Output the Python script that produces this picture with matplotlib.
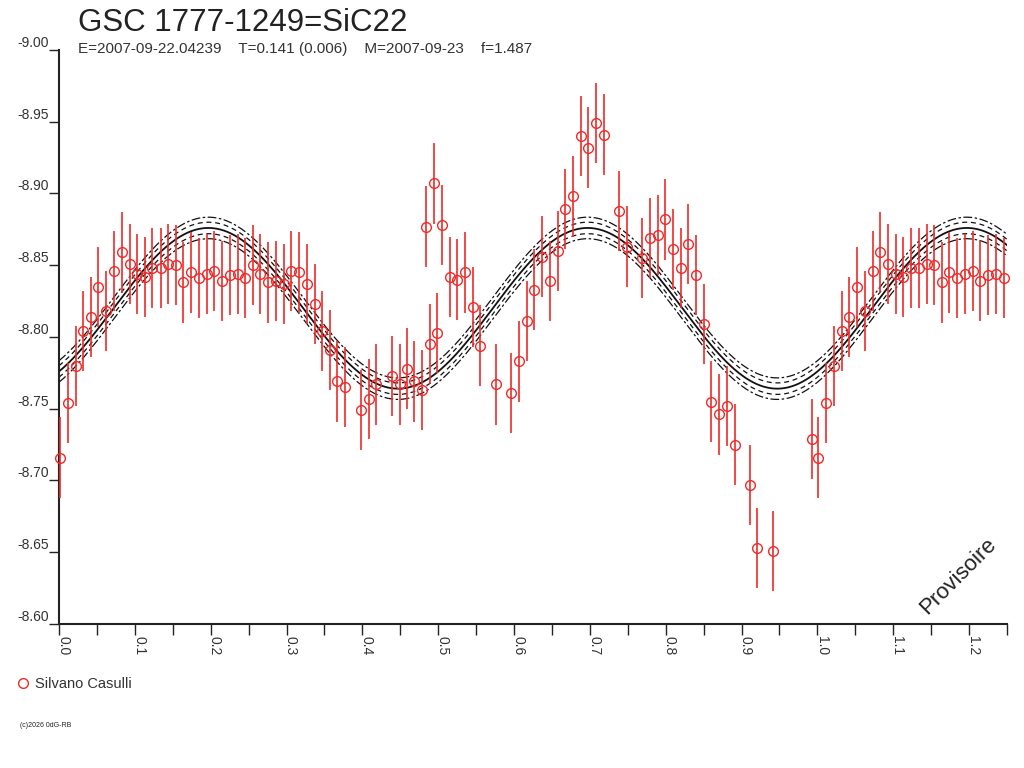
import matplotlib
matplotlib.use('Agg')
import matplotlib.pyplot as plt
import matplotlib.transforms as mtransforms
import numpy as np
from matplotlib.lines import Line2D
from matplotlib.ticker import MultipleLocator, FormatStrFormatter

plt.rcParams['font.family'] = ['Liberation Sans', 'DejaVu Sans']

# ---- data (phase, magnitude) ----
phase = [0.001, 0.0115, 0.022, 0.032, 0.042, 0.052, 0.0625, 0.073, 0.083, 0.093,
         0.103, 0.113, 0.123, 0.134, 0.144, 0.154, 0.164, 0.174, 0.1845, 0.1946,
         0.2048, 0.215, 0.225, 0.2355, 0.2457, 0.2558, 0.2655, 0.276, 0.2862, 0.2963,
         0.3065, 0.3166, 0.3267, 0.3369, 0.3474, 0.357, 0.3672, 0.3774, 0.3976, 0.4082,
         0.4184, 0.4386, 0.449, 0.4588, 0.4685, 0.479, 0.4844, 0.489, 0.4945, 0.499,
         0.5046, 0.515, 0.525, 0.5354, 0.5456, 0.5557, 0.576, 0.596, 0.6063, 0.6165,
         0.6266, 0.637, 0.647, 0.6574, 0.6675, 0.6777, 0.6882, 0.698, 0.7085, 0.7186,
         0.7388, 0.7486, 0.7688, 0.7794, 0.7895, 0.7996, 0.8098, 0.82, 0.83, 0.840,
         0.850, 0.860, 0.8705, 0.8807, 0.8908, 0.911, 0.921, 0.942, 0.9925]
mag = [-8.716, -8.754, -8.780, -8.804, -8.814, -8.835, -8.818, -8.846, -8.859, -8.851,
       -8.844, -8.842, -8.848, -8.848, -8.851, -8.850, -8.838, -8.845, -8.841, -8.844,
       -8.846, -8.839, -8.843, -8.844, -8.841, -8.850, -8.844, -8.838, -8.839, -8.837,
       -8.846, -8.845, -8.837, -8.823, -8.804, -8.791, -8.769, -8.765, -8.749, -8.757,
       -8.767, -8.773, -8.767, -8.778, -8.769, -8.763, -8.877, -8.795, -8.907, -8.803,
       -8.878, -8.842, -8.840, -8.845, -8.821, -8.794, -8.767, -8.761, -8.783, -8.811,
       -8.833, -8.856, -8.839, -8.860, -8.889, -8.898, -8.940, -8.932, -8.949, -8.941,
       -8.888, -8.863, -8.855, -8.869, -8.871, -8.882, -8.861, -8.848, -8.865, -8.843,
       -8.809, -8.755, -8.746, -8.752, -8.725, -8.697, -8.653, -8.651, -8.729]
mag_err = 0.028

# model curve parameters
model_mean = -8.820
model_amp = 0.056
model_max_phase = 0.197
band_inner = 0.004
band_outer = 0.0075

title = "GSC 1777-1249=SiC22"
subtitle = "E=2007-09-22.04239    T=0.141 (0.006)    M=2007-09-23    f=1.487"
observer = "Silvano Casulli"
watermark = "Provisoire"
copyright_txt = "(c)2026 0dG-RB"

red = '#ee2a2a'
W, H = 1024, 768

fig = plt.figure(figsize=(W / 100, H / 100), dpi=100)
fig.patch.set_facecolor('white')
ax = fig.add_axes([59 / W, 1 - 624 / H, (1007 - 59) / W, (624 - 50) / H])

x = np.array(phase)
y = np.array(mag)
sel = x < 0.25
xs = np.concatenate([x, x[sel] + 1.0])
ys = np.concatenate([y, y[sel]])

xx = np.linspace(0, 1.25, 800)
model = model_mean - model_amp * np.cos(4 * np.pi * (xx - model_max_phase))
ax.plot(xx, model, color='#111111', lw=1.3, zorder=2)
for s in (-1, 1):
    ax.plot(xx, model + s * band_inner, color='#111111', lw=0.9, dashes=(4, 3), zorder=2)
    ax.plot(xx, model + s * band_outer, color='#111111', lw=0.9, dashes=(7, 2, 2, 2), zorder=2)

ax.errorbar(xs, ys, yerr=mag_err, fmt='o', mfc='none', mec=red, ecolor=red,
            ms=7, mew=1.0, elinewidth=1.2, capsize=0, zorder=3, clip_on=False)

ax.set_xlim(0, 1.25)
ax.set_ylim(-8.60, -9.00)

ax.spines['top'].set_visible(False)
ax.spines['right'].set_visible(False)
for sp in ('left', 'bottom'):
    ax.spines[sp].set_linewidth(1.5)
    ax.spines[sp].set_color('#222222')

ax.xaxis.set_major_locator(MultipleLocator(0.1))
ax.xaxis.set_minor_locator(MultipleLocator(0.05))
ax.xaxis.set_major_formatter(FormatStrFormatter('%.1f'))
ax.yaxis.set_major_locator(MultipleLocator(0.05))
ax.yaxis.set_major_formatter(FormatStrFormatter('%.2f'))

ax.tick_params(axis='x', which='both', direction='out', length=8, width=1,
               color='#222222', labelsize=10, labelcolor='#333333', pad=1, labelrotation=-90)
ax.tick_params(axis='y', which='both', direction='out', length=7, width=1,
               color='#222222', labelsize=10, labelcolor='#333333', pad=0)
fig.canvas.draw()
for lbl in ax.get_yticklabels():
    lbl.set_verticalalignment('bottom')
xoff = mtransforms.ScaledTranslation(3 / 72, 0, fig.dpi_scale_trans)
for lbl in ax.get_xticklabels():
    lbl.set_transform(lbl.get_transform() + xoff)

fig.text(78 / W, 1 - 31 / H, title, fontsize=22.5, color='#222222', va='baseline')
fig.text(78 / W, 1 - 53 / H, subtitle, fontsize=11, color='#333333', va='baseline')
fig.text(958 / W, 1 - 576 / H, watermark, rotation=45, ha='center', va='center',
         fontsize=16, color='#222222')

fig.add_artist(Line2D([23 / W], [1 - 683 / H], marker='o', mfc='none', mec=red,
                      ms=7, mew=1.0, transform=fig.transFigure))
fig.text(35 / W, 1 - 688 / H, observer, fontsize=10.5, color='#333333', va='baseline')
fig.text(20 / W, 1 - 727 / H, copyright_txt, fontsize=5, color='#222222', va='baseline')

fig.savefig('out.png', dpi=100, facecolor='white')
